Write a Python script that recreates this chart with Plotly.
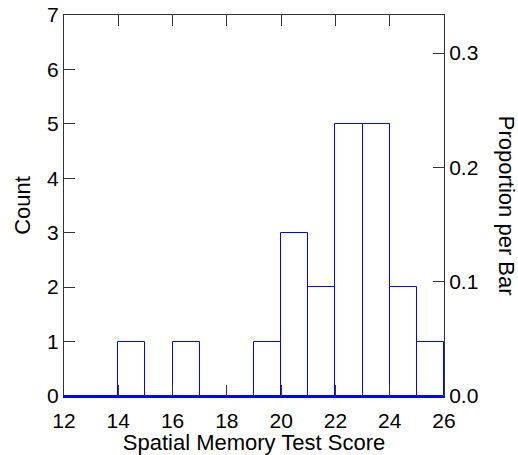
import plotly.graph_objects as go

bin_centers = [12.5, 13.5, 14.5, 15.5, 16.5, 17.5, 18.5, 19.5, 20.5, 21.5, 22.5, 23.5, 24.5, 25.5]
counts = [0, 0, 1, 0, 1, 0, 0, 1, 3, 2, 5, 5, 2, 1]
x_ticks = [12, 14, 16, 18, 20, 22, 24, 26]
count_ticks = [0, 1, 2, 3, 4, 5, 6, 7]
prop_ticks = [0.0, 0.1, 0.2, 0.3]

total = sum(counts)
ymax = 7
bin_w = 1
xrange_ = [bin_centers[0] - bin_w / 2, bin_centers[-1] + bin_w / 2]

tick_font = dict(family="Liberation Sans, Arial, sans-serif", size=21, color="black")
title_font = dict(family="Liberation Sans, Arial, sans-serif", size=22, color="black")
BLUE = "#0000ff"
AX = "#333333"

fig = go.Figure()
fig.add_trace(go.Bar(
    x=bin_centers, y=counts, width=bin_w,
    marker=dict(color="rgba(0,0,0,0)", line=dict(color=BLUE, width=1)),
    showlegend=False, hoverinfo="skip",
))
# invisible traces so the right and top axes are drawn
fig.add_trace(go.Scatter(x=[xrange_[0]], y=[0], yaxis="y2", mode="markers",
                         marker=dict(opacity=0), showlegend=False, hoverinfo="skip"))
fig.add_trace(go.Scatter(x=[xrange_[0]], y=[0], xaxis="x2", mode="markers",
                         marker=dict(opacity=0), showlegend=False, hoverinfo="skip"))

axis_common = dict(showgrid=False, zeroline=False, showline=True,
                   ticks="inside", ticklen=11, tickcolor=AX,
                   tickfont=tick_font, automargin=False)

fig.update_layout(
    width=518, height=455,
    margin=dict(l=64, r=74, t=15, b=59),
    plot_bgcolor="white", paper_bgcolor="white",
    font=tick_font,
    bargap=0,
    # bottom axis: its line is the blue outline of the zero-height bars
    xaxis=dict(range=xrange_, tickvals=x_ticks, linecolor=BLUE, linewidth=2,
               ticklabelstandoff=5,
               title=dict(text="Spatial Memory Test Score", font=title_font, standoff=2),
               **axis_common),
    xaxis2=dict(range=xrange_, tickvals=x_ticks, overlaying="x", side="top",
                showticklabels=False, linecolor=AX, linewidth=1, **axis_common),
    yaxis=dict(range=[0, ymax], tickvals=count_ticks, linecolor=AX, linewidth=1,
               title=dict(text="Count", font=title_font, standoff=10),
               **axis_common),
    yaxis2=dict(range=[0, ymax / total], tickvals=prop_ticks, tickformat=".1f",
                overlaying="y", side="right", linecolor=AX, linewidth=1, **axis_common),
    annotations=[dict(text="Proportion per Bar", textangle=90, xref="paper", yref="paper",
                      x=1.165, y=0.5, xanchor="center", yanchor="middle",
                      showarrow=False, font=title_font)],
)

fig.write_html("out.html")
